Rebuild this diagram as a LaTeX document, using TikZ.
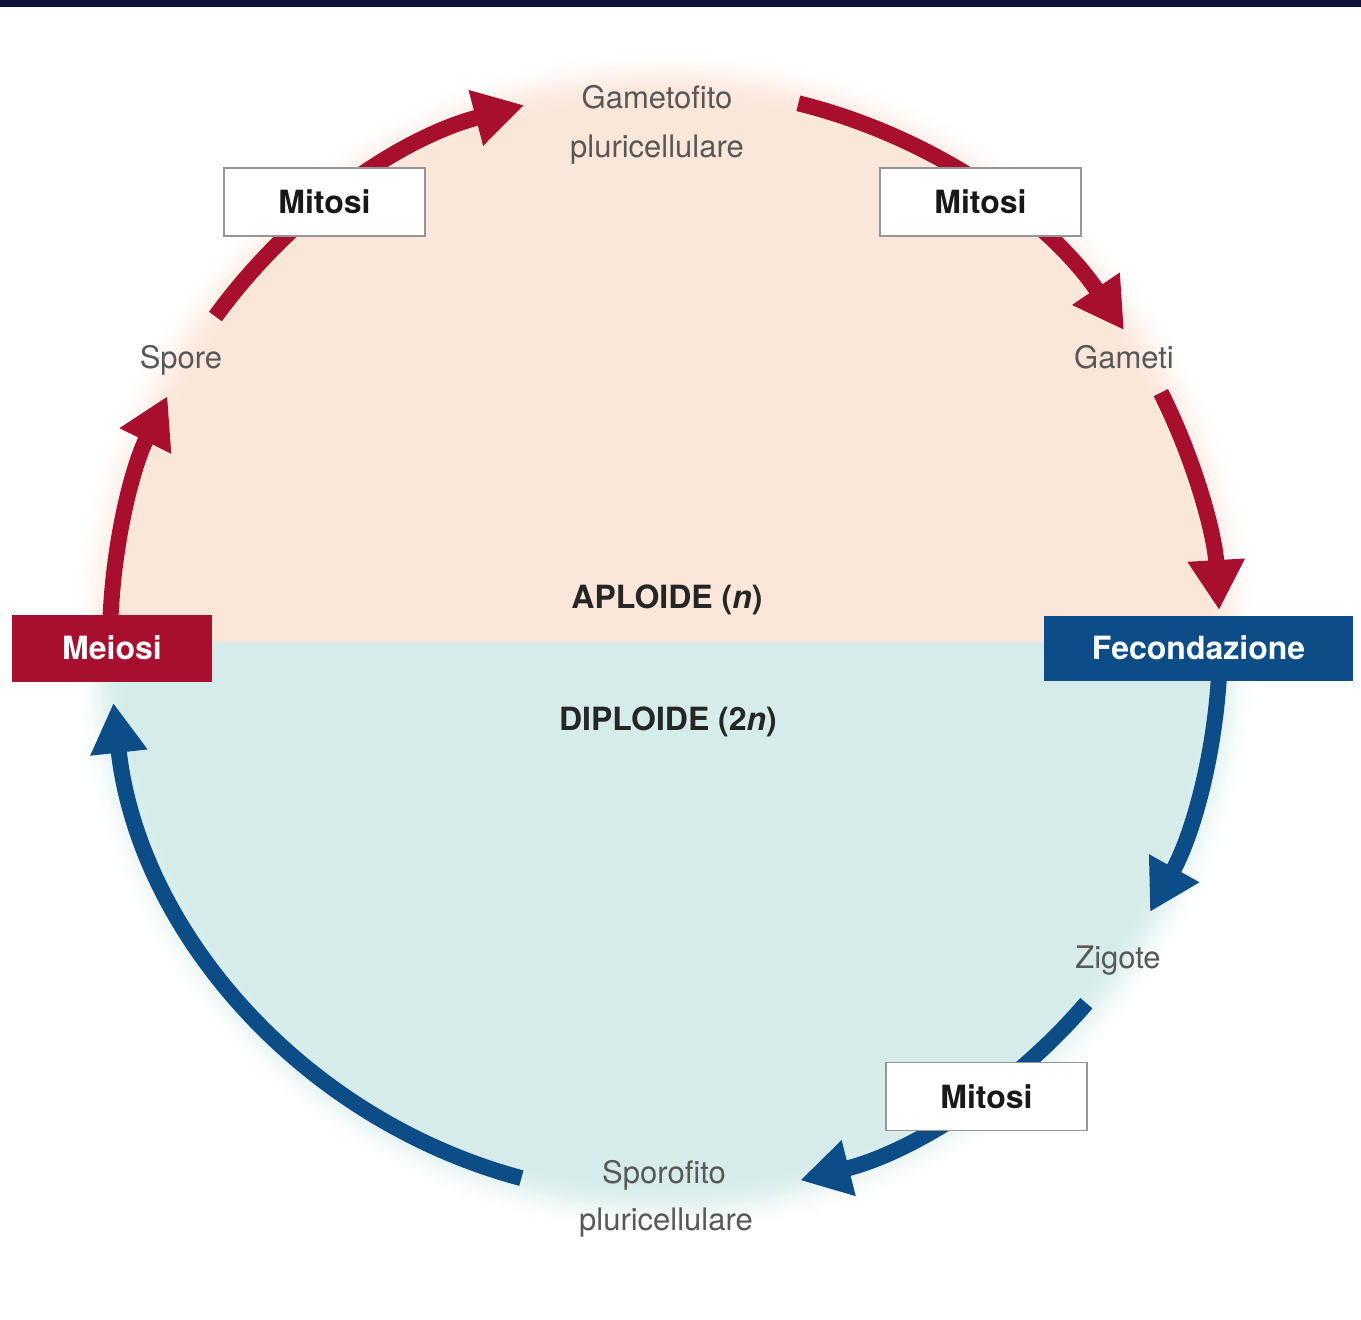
\documentclass[tikz,border=0pt]{standalone}
\usepackage{fontspec}
\setmainfont{TeX Gyre Heros}
\usetikzlibrary{arrows.meta,calc}
\definecolor{cred}{RGB}{168,15,46}
\definecolor{cblue}{RGB}{12,77,136}
\definecolor{peach}{RGB}{251,230,218}
\definecolor{tealbg}{RGB}{214,236,235}
\definecolor{navy}{RGB}{17,16,58}
\definecolor{lblgray}{RGB}{88,88,88}
\definecolor{boxgray}{RGB}{150,150,150}
\tikzset{
  lbl/.style={font=\fontsize{15.5}{18}\selectfont, text=lblgray, anchor=base, inner sep=0pt},
  phase/.style={font=\bfseries\fontsize{16}{19}\selectfont, text=black!85, anchor=base, inner sep=0pt},
  mitbox/.style={draw=boxgray, line width=0.75pt, fill=white, minimum width=100.5pt, minimum height=34pt,
    font=\bfseries\fontsize{16}{19}\selectfont, text=black!90, inner sep=0pt},
  redbox/.style={fill=cred, text=white, minimum width=100pt, minimum height=33.5pt,
    font=\bfseries\fontsize{16}{19}\selectfont, inner sep=0pt},
  bluebox/.style={fill=cblue, text=white, minimum width=154.5pt, minimum height=32.5pt,
    font=\bfseries\fontsize{16}{19}\selectfont, inner sep=0pt},
  redarr/.style={draw=cred, line width=8pt, -{Triangle[width=27pt,length=25pt]}},
  bluearr/.style={draw=cblue, line width=8pt, -{Triangle[width=27pt,length=25pt]}}
}
\begin{document}
\begin{tikzpicture}[x=0.5pt,y=-0.5pt]
\useasboundingbox (0,0) rectangle (1361,1319);
\coordinate (C) at (665,642);
% background halves with soft edge
\begin{scope}
  \clip (0,0) rectangle (1361,642);
  \foreach \i in {0,...,25} {
    \pgfmathsetmacro\rr{594-2*\i}
    \pgfmathsetmacro\tt{(594-\rr)/52}
    \pgfmathsetmacro\pp{100*\tt*\tt*(3-2*\tt)}
    \fill[peach!\pp!white] (C) circle (\rr);
  }
  \fill[peach] (C) circle (542);
\end{scope}
\begin{scope}
  \clip (0,642) rectangle (1361,1319);
  \foreach \i in {0,...,25} {
    \pgfmathsetmacro\rr{594-2*\i}
    \pgfmathsetmacro\tt{(594-\rr)/52}
    \pgfmathsetmacro\pp{100*\tt*\tt*(3-2*\tt)}
    \fill[tealbg!\pp!white] (C) circle (\rr);
  }
  \fill[tealbg] (C) circle (542);
\end{scope}
% top bar
\fill[navy] (0,0) rectangle (1361,7);
% arrow start points
\coordinate (a1s) at ($(C)+(181:555)$);
\coordinate (a2s) at ($(C)+(215.9:555)$);
\coordinate (a3s) at ($(C)+(283.9:555)$);
\coordinate (a4s) at ($(C)+(333.3:555)$);
\coordinate (a5s) at ($(C)+(1:555)$);
\coordinate (a6s) at ($(C)+(40.6:555)$);
\coordinate (a7s) at ($(C)+(105:555)$);
% arrows
\draw[redarr] (a1s) arc[start angle=181, end angle=206.3, radius=555];
\draw[redarr] (a2s) arc[start angle=215.9, end angle=255.3, radius=555];
\draw[redarr] (a3s) arc[start angle=283.9, end angle=325.8, radius=555];
\draw[redarr] (a4s) arc[start angle=333.3, end angle=356.7, radius=555];
\draw[bluearr] (a5s) arc[start angle=1, end angle=29.1, radius=555];
\draw[bluearr] (a6s) arc[start angle=40.6, end angle=75.9, radius=555];
\draw[bluearr] (a7s) arc[start angle=105, end angle=173.7, radius=555];
% boxes
\node[mitbox] (mitL) at (324.5,202) {Mitosi};
\node[mitbox] (mitR) at (980.5,202) {Mitosi};
\node[mitbox] (mitB) at (986.5,1096.5) {Mitosi};
\node[redbox] (meiosi) at (112,648) {Meiosi};
\node[bluebox] (fec) at (1198.5,648) {Fecondazione};
% labels
\node[lbl] (gam1) at (657,108) {Gametofito};
\node[lbl] (gam2) at (657,157) {pluricellulare};
\node[lbl] (spore) at (181,368) {Spore};
\node[lbl] (gameti) at (1124,368) {Gameti};
\node[lbl] (zig) at (1118,968) {Zigote};
\node[lbl] (spo1) at (664,1183) {Sporofito};
\node[lbl] (spo2) at (666,1230) {pluricellulare};
\node[phase] (apl) at (667,608) {APLOIDE (\textit{n})};
\node[phase] (dip) at (668,730) {DIPLOIDE (2\textit{n})};
\end{tikzpicture}
\end{document}
